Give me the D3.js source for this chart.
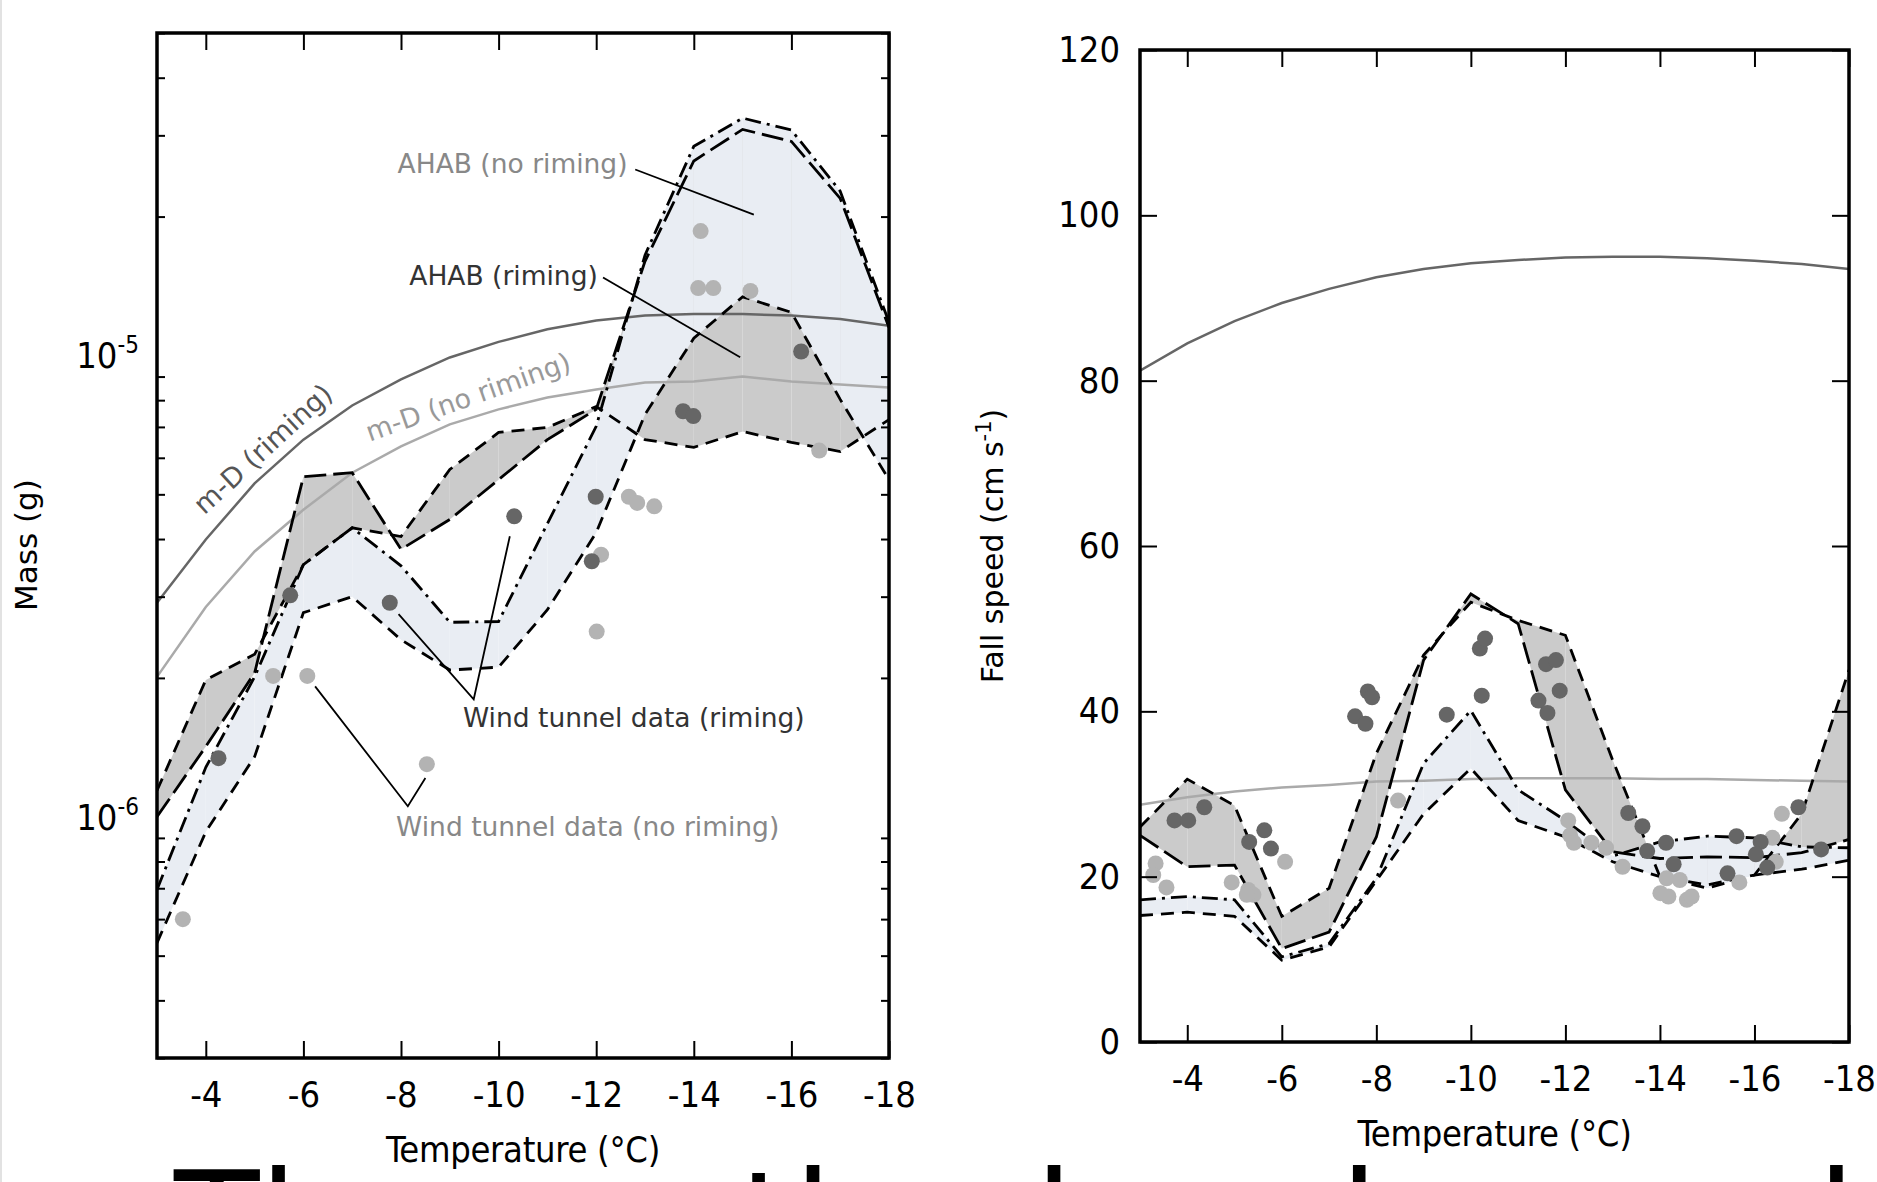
<!DOCTYPE html>
<html>
<head>
<meta charset="utf-8">
<script src="https://cdn.jsdelivr.net/npm/d3@7"></script>
<style>
    html, body { margin: 0; padding: 0; background: #fff; overflow: hidden; }
    svg { display: block; }
</style>
</head>
<body>
<svg id="chart" width="1877" height="1182"></svg>
<script>
/* Data */
/* **** */
var temps = [-3, -4, -5, -6, -7, -8, -9, -10, -11, -12, -13, -14, -15, -16, -17, -18];
var tempTicks = [-4, -6, -8, -10, -12, -14, -16, -18];

// Mass panel (g)
var massRimDashed    = [1.14e-6, 1.98e-6, 2.25e-6, 3.52e-6, 4.23e-6, 4.05e-6, 5.66e-6, 6.81e-6, 6.98e-6, 7.75e-6, 6.57e-6, 6.32e-6, 6.84e-6, 6.48e-6, 6.19e-6, 7.26e-6];
var massRimLong      = [1.00e-6, 1.42e-6, 2.05e-6, 5.46e-6, 5.57e-6, 3.80e-6, 4.41e-6, 5.38e-6, 6.57e-6, 7.64e-6, 1.60e-5, 2.64e-5, 3.09e-5, 2.91e-5, 2.19e-5, 1.15e-5];
var massNoRimDashDot = [6.95e-7, 1.28e-6, 2.01e-6, 3.52e-6, 4.23e-6, 3.50e-6, 2.64e-6, 2.65e-6, 4.32e-6, 7.02e-6, 1.65e-5, 2.84e-5, 3.27e-5, 3.08e-5, 2.27e-5, 1.18e-5];
var massNoRimDashed  = [5.33e-7, 9.28e-7, 1.35e-6, 2.77e-6, 3.00e-6, 2.42e-6, 2.08e-6, 2.11e-6, 2.81e-6, 4.13e-6, 7.45e-6, 1.09e-5, 1.34e-5, 1.24e-5, 8.03e-6, 5.38e-6];
var massMDRiming     = [2.91e-6, 3.99e-6, 5.28e-6, 6.57e-6, 7.79e-6, 8.87e-6, 9.90e-6, 1.07e-5, 1.14e-5, 1.19e-5, 1.22e-5, 1.23e-5, 1.23e-5, 1.22e-5, 1.20e-5, 1.16e-5];
var massMDNoRiming   = [2.01e-6, 2.85e-6, 3.76e-6, 4.63e-6, 5.57e-6, 6.35e-6, 7.09e-6, 7.64e-6, 8.11e-6, 8.44e-6, 8.74e-6, 8.78e-6, 9.00e-6, 8.78e-6, 8.65e-6, 8.52e-6];
var massTunnelRimT   = [-4.26, -5.73, -7.77, -10.32, -11.99, -11.91, -13.78, -13.99, -16.2];
var massTunnelRim    = [1.34e-6, 3.02e-6, 2.91e-6, 4.48e-6, 4.94e-6, 3.58e-6, 7.57e-6, 7.39e-6, 1.02e-5];
var massTunnelNoRimT = [-3.53, -5.38, -6.08, -8.53, -12.1, -12.01, -12.67, -12.84, -13.19, -14.14, -14.09, -14.4, -15.16, -16.57];
var massTunnelNoRim  = [6.0e-7, 2.02e-6, 2.02e-6, 1.30e-6, 3.70e-6, 2.52e-6, 4.94e-6, 4.79e-6, 4.71e-6, 1.86e-5, 1.40e-5, 1.40e-5, 1.38e-5, 6.22e-6];

// Fall speed panel (cm s-1)
var fallRimDashed    = [26.0, 31.8, 28.6, 15.2, 18.6, 34.9, 46.8, 53.2, 51.0, 49.2, 34.1, 20.0, 19.0, 20.2, 27.6, 45.0];
var fallRimLong      = [25.0, 21.2, 21.4, 11.3, 13.3, 24.8, 46.2, 54.2, 50.6, 30.5, 23.0, 22.2, 22.4, 22.3, 22.9, 24.5];
var fallNoRimDashDot = [17.2, 17.6, 17.2, 10.3, 11.9, 19.8, 33.7, 40.1, 30.5, 26.8, 22.5, 24.2, 24.9, 24.7, 23.6, 23.5];
var fallNoRimDashed  = [15.3, 15.7, 15.2, 9.9, 11.5, 19.5, 27.6, 33.1, 26.8, 24.8, 21.8, 20.0, 18.6, 20.2, 20.9, 22.0];
var fallMDRiming     = [81.2, 84.5, 87.2, 89.4, 91.1, 92.5, 93.5, 94.2, 94.6, 94.9, 95.0, 95.0, 94.8, 94.5, 94.1, 93.5];
var fallMDNoRiming   = [28.7, 29.6, 30.3, 30.8, 31.1, 31.5, 31.6, 31.8, 31.9, 31.9, 31.9, 31.8, 31.8, 31.7, 31.6, 31.5];
var fallTunnelRimT   = [-3.73, -4.02, -4.36, -5.31, -5.63, -5.77, -7.55, -7.77, -7.82, -7.91, -9.49, -10.23, -10.19, -10.3,
                        -11.59, -11.8, -11.88, -11.43, -11.62, -13.33, -13.63, -13.73, -14.13, -14.29, -15.62, -15.43,
                        -16.13, -16.03, -16.27, -16.93, -17.41];
var fallTunnelRim    = [26.8, 26.8, 28.4, 24.2, 25.6, 23.4, 39.4, 38.5, 42.4, 41.7, 39.6, 41.9, 47.6, 48.8,
                        45.7, 46.2, 42.5, 41.3, 39.8, 27.7, 26.1, 23.1, 24.1, 21.5, 24.9, 20.4,
                        24.2, 22.7, 21.1, 28.4, 23.3];
var fallTunnelNoRimT = [-3.33, -3.28, -3.56, -4.94, -5.29, -5.4, -5.26, -6.07, -8.46, -12.06, -12.1, -12.18, -12.55,
                        -12.86, -13.21, -14.14, -14.42, -14.01, -14.18, -14.57, -14.67, -15.68, -16.38, -16.45, -16.58];
var fallTunnelNoRim  = [21.6, 20.2, 18.7, 19.3, 18.4, 17.8, 17.8, 21.8, 29.2, 26.8, 25.0, 24.1, 24.1,
                        23.5, 21.2, 19.8, 19.6, 18.0, 17.6, 17.2, 17.6, 19.3, 24.7, 21.8, 27.6];
var fallTicks = [0, 20, 40, 60, 80, 100, 120];

/* Setup */
/* ***** */
var svg = d3.select('#chart');
var tickFont = '"DejaVu Sans Condensed", "DejaVu Sans", sans-serif';
var textFont = '"DejaVu Sans", sans-serif';

var colors = {
    rimFill: '#cbcbcb',
    noRimFill: '#e9edf3',
    mdRim: '#666666',
    mdNoRim: '#aaaaaa',
    dotRim: '#666666',
    dotNoRim: '#b3b3b3'
};

var xMass = d3.scaleLinear().domain([-3, -18]).range([157, 889]);
var yMass = d3.scaleLog().domain([3e-7, 5e-5]).range([1058, 33]);
var xFall = d3.scaleLinear().domain([-3, -18]).range([1140, 1849]);
var yFall = d3.scaleLinear().domain([0, 120]).range([1042, 50]);

// faint page edge on the left
svg.append('rect')
    .attr('x', 0).attr('y', 0)
    .attr('width', 2).attr('height', 1182)
    .attr('fill', '#e2e2e2');

/* Helpers */
/* ******* */

// Shaded range between two series, one piece per temperature step
var band = function(g, x, y, lo, hi, color) {
    var area = d3.area()
        .x(function(d) { return x(d.t); })
        .y0(function(d) { return y(d.lo); })
        .y1(function(d) { return y(d.hi); });
    for (var i = 0; i < temps.length - 1; i++) {
        var seg = [i, i + 1].map(function(k) {
            return {t: temps[k], lo: lo[k], hi: hi[k]};
        });
        g.append('path')
            .attr('d', area(seg))
            .attr('fill', color);
    }
};

var curve = function(g, x, y, values, color, width, dash) {
    var line = d3.line()
        .x(function(d, i) { return x(temps[i]); })
        .y(function(d) { return y(d); });
    g.append('path')
        .attr('d', line(values))
        .attr('fill', 'none')
        .attr('stroke', color)
        .attr('stroke-width', width)
        .attr('stroke-dasharray', dash);
};

var dots = function(g, x, y, ts, values, color) {
    g.append('g')
        .selectAll('circle')
        .data(values)
        .enter()
        .append('circle')
        .attr('cx', function(d, i) { return x(ts[i]); })
        .attr('cy', function(d) { return y(d); })
        .attr('r', 8)
        .attr('fill', color);
};

var drawPanel = function(id, x, y, p) {
    svg.append('clipPath')
        .attr('id', id)
        .append('rect')
        .attr('x', x.range()[0]).attr('y', y.range()[1])
        .attr('width', x.range()[1] - x.range()[0])
        .attr('height', y.range()[0] - y.range()[1]);

    var g = svg.append('g').attr('clip-path', 'url(#' + id + ')');

    band(g, x, y, p.rimA, p.rimB, colors.rimFill);
    band(g, x, y, p.noRimA, p.noRimB, colors.noRimFill);

    curve(g, x, y, p.mdRim, colors.mdRim, 2.5, null);
    curve(g, x, y, p.mdNoRim, colors.mdNoRim, 2.5, null);

    curve(g, x, y, p.rimA, '#000', 2.8, '13,8');
    curve(g, x, y, p.rimB, '#000', 2.8, '22,7');
    curve(g, x, y, p.noRimA, '#000', 2.8, '16,6,3,6');
    curve(g, x, y, p.noRimB, '#000', 2.8, '13,8');

    dots(g, x, y, p.noRimT, p.noRimDots, colors.dotNoRim);
    dots(g, x, y, p.rimT, p.rimDots, colors.dotRim);
};

var styleAxis = function(sel) {
    sel.select('.domain').remove();
    sel.attr('font-family', tickFont).attr('font-size', 36);
    sel.selectAll('.tick line').attr('stroke', '#000').attr('stroke-width', 2);
    sel.selectAll('.tick text').attr('fill', '#000');
};

var drawFrame = function(x, y, yAxis, yAxisRight) {
    var left = x.range()[0], right = x.range()[1];
    var top = y.range()[1], bottom = y.range()[0];

    svg.append('g')
        .attr('transform', 'translate(0,' + bottom + ')')
        .call(d3.axisBottom(x).tickValues(tempTicks).tickSize(-17).tickPadding(23)
            .tickFormat(function(d) { return String(d); }))
        .call(styleAxis);

    svg.append('g')
        .attr('transform', 'translate(0,' + top + ')')
        .call(d3.axisTop(x).tickValues(tempTicks).tickSize(-17).tickFormat(''))
        .call(styleAxis);

    svg.append('g')
        .attr('transform', 'translate(' + left + ',0)')
        .call(yAxis)
        .call(styleAxis);

    svg.append('g')
        .attr('transform', 'translate(' + right + ',0)')
        .call(yAxisRight)
        .call(styleAxis);

    svg.append('rect')
        .attr('x', left).attr('y', top)
        .attr('width', right - left).attr('height', bottom - top)
        .attr('fill', 'none')
        .attr('stroke', '#000')
        .attr('stroke-width', 3.5);

    svg.append('text')
        .attr('x', (left + right) / 2)
        .attr('y', bottom + 104)
        .attr('text-anchor', 'middle')
        .attr('font-family', tickFont)
        .attr('font-size', 36)
        .attr('letter-spacing', -0.3)
        .text('Temperature (\u00b0C)');
};

/* Mass panel */
/* ********** */
drawPanel('clipMass', xMass, yMass, {
    rimA: massRimDashed, rimB: massRimLong,
    noRimA: massNoRimDashDot, noRimB: massNoRimDashed,
    mdRim: massMDRiming, mdNoRim: massMDNoRiming,
    rimT: massTunnelRimT, rimDots: massTunnelRim,
    noRimT: massTunnelNoRimT, noRimDots: massTunnelNoRim
});

var massMajor = [1e-6, 1e-5];
var massMinor = yMass.ticks().filter(function(d) {
    return massMajor.indexOf(d) < 0;
});

drawFrame(xMass, yMass,
    function(sel) {
        sel.call(d3.axisLeft(yMass).tickValues(massMajor).tickSize(-17).tickFormat(''));
        sel.call(d3.axisLeft(yMass).tickValues(massMinor).tickSize(-8).tickFormat(''));
    },
    function(sel) {
        sel.call(d3.axisRight(yMass).tickValues(massMajor).tickSize(-17).tickFormat(''));
        sel.call(d3.axisRight(yMass).tickValues(massMinor).tickSize(-8).tickFormat(''));
    }
);

// log tick labels as 10^n
massMajor.forEach(function(v) {
    var t = svg.append('text')
        .attr('x', 139)
        .attr('y', yMass(v) + 13)
        .attr('text-anchor', 'end')
        .attr('font-family', tickFont)
        .attr('font-size', 36);
    t.append('tspan').text('10');
    t.append('tspan')
        .attr('dy', -15)
        .attr('font-size', 24)
        .text(String(Math.round(Math.log10(v))));
});

svg.append('text')
    .attr('transform', 'translate(37,545) rotate(-90)')
    .attr('text-anchor', 'middle')
    .attr('font-family', textFont)
    .attr('font-size', 31)
    .text('Mass (g)');

/* Annotations on the mass panel */
var leaders = [
    [[-12.80, 2.53e-5], [-15.23, 2.02e-5]],
    [[-12.14, 1.476e-5], [-14.95, 9.91e-6]],
    [[-7.95, 2.749e-6], [-9.49, 1.798e-6], [-10.23, 4.055e-6]],
    [[-6.24, 1.917e-6], [-8.14, 1.054e-6], [-8.50, 1.213e-6]]
];
var leaderLine = d3.line()
    .x(function(d) { return xMass(d[0]); })
    .y(function(d) { return yMass(d[1]); });
leaders.forEach(function(pts) {
    svg.append('path')
        .attr('d', leaderLine(pts))
        .attr('fill', 'none')
        .attr('stroke', '#000')
        .attr('stroke-width', 1.8);
});

var notes = [
    {text: 'AHAB (no riming)', at: [-7.93, 2.49e-5], color: '#888888', angle: 0, size: 26.5},
    {text: 'AHAB (riming)', at: [-8.17, 1.419e-5], color: '#333333', angle: 0, size: 26.5},
    {text: 'Wind tunnel data (riming)', at: [-9.27, 1.568e-6], color: '#333333', angle: 0, size: 26.5},
    {text: 'Wind tunnel data (no riming)', at: [-7.90, 9.09e-7], color: '#888888', angle: 0, size: 26.5},
    {text: 'm-D (riming)', at: [-3.97, 4.50e-6], color: '#555555', angle: -42.5, size: 27.5},
    {text: 'm-D (no riming)', at: [-7.36, 6.50e-6], color: '#999999', angle: -19.5, size: 27}
];
notes.forEach(function(n) {
    svg.append('text')
        .attr('transform', 'translate(' + xMass(n.at[0]) + ',' + yMass(n.at[1]) + ') rotate(' + n.angle + ')')
        .attr('font-family', textFont)
        .attr('font-size', n.size)
        .attr('fill', n.color)
        .text(n.text);
});

/* Fall speed panel */
/* **************** */
drawPanel('clipFall', xFall, yFall, {
    rimA: fallRimDashed, rimB: fallRimLong,
    noRimA: fallNoRimDashDot, noRimB: fallNoRimDashed,
    mdRim: fallMDRiming, mdNoRim: fallMDNoRiming,
    rimT: fallTunnelRimT, rimDots: fallTunnelRim,
    noRimT: fallTunnelNoRimT, noRimDots: fallTunnelNoRim
});

drawFrame(xFall, yFall,
    d3.axisLeft(yFall).tickValues(fallTicks).tickSize(-17).tickPadding(20)
        .tickFormat(function(d) { return String(d); }),
    d3.axisRight(yFall).tickValues(fallTicks).tickSize(-17).tickFormat('')
);

var fallLabel = svg.append('text')
    .attr('transform', 'translate(1003,546) rotate(-90)')
    .attr('text-anchor', 'middle')
    .attr('font-family', textFont)
    .attr('font-size', 30);
fallLabel.append('tspan').text('Fall speed (cm s');
fallLabel.append('tspan').attr('dy', -12).attr('font-size', 21).text('-1');
fallLabel.append('tspan').attr('dy', 12).text(')');

/* Caption below, cut off by the page edge */
var captionWords = ['The', 'another', 'be', 'also', 'and'];
var captionX = [174, 479, 1035, 1254, 1592];
var caption = svg.append('text')
    .attr('y', 1272)
    .attr('font-family', textFont)
    .attr('font-size', 140)
    .attr('fill', '#000');
captionWords.forEach(function(w, i) {
    caption.append('tspan').attr('x', captionX[i]).text(w);
});
</script>
</body>
</html>
